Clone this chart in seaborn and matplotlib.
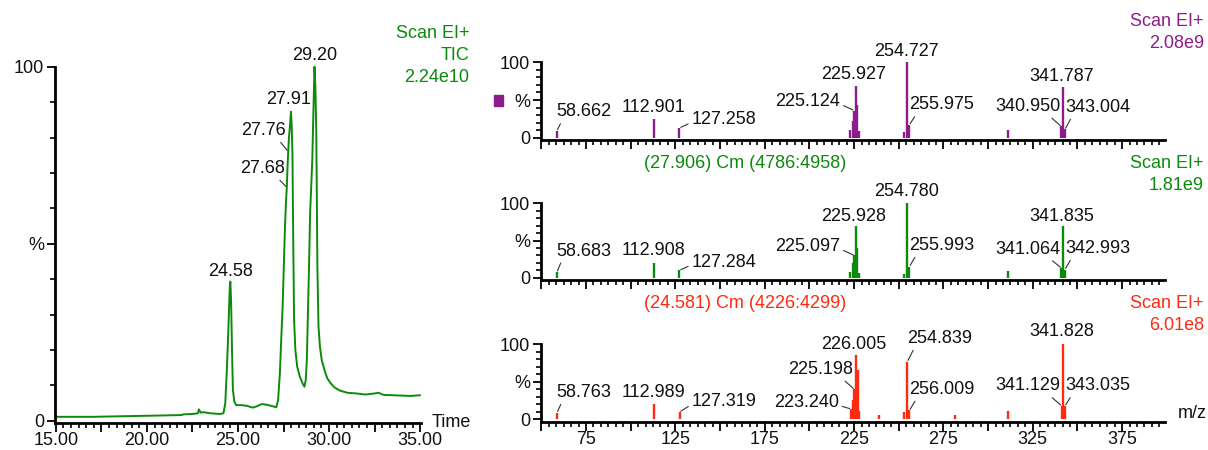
import seaborn as sns
import matplotlib.pyplot as plt
import pandas as pd
from matplotlib.ticker import MultipleLocator, FuncFormatter
from matplotlib.patches import Rectangle

# ---- chromatogram (TIC) ----
tic_time = [15.0, 16.0, 17.0, 18.0, 19.0, 20.0, 21.0, 21.9, 22.0, 22.5, 22.8, 22.85, 22.95,
            23.1, 23.5, 24.0, 24.2, 24.3, 24.38, 24.45, 24.5, 24.55, 24.58, 24.62, 24.66,
            24.72, 24.8, 24.9, 25.2, 25.5, 25.8, 26.0, 26.3, 26.6, 26.9, 27.1, 27.2, 27.3,
            27.38, 27.45, 27.52, 27.58, 27.64, 27.68, 27.72, 27.76, 27.8, 27.85, 27.91,
            27.95, 27.99, 28.03, 28.08, 28.15, 28.25, 28.4, 28.55, 28.65, 28.72, 28.78,
            28.84, 28.9, 28.96, 29.02, 29.08, 29.13, 29.2, 29.25, 29.3, 29.36, 29.42, 29.5,
            29.6, 29.75, 29.9, 30.1, 30.3, 30.6, 31.0, 31.5, 32.0, 32.5, 32.7, 33.0, 33.5,
            34.0, 34.5, 35.0]
tic_pct = [1.1, 1.1, 1.1, 1.2, 1.3, 1.4, 1.5, 1.6, 1.8, 1.9, 2.1, 3.2, 2.3,
           2.4, 2.1, 1.9, 2.1, 4.9, 13.4, 22.8, 30.3, 37.9, 39.3, 34.0, 22.8,
           8.7, 5.4, 4.4, 4.4, 4.2, 3.7, 4.0, 4.7, 4.5, 4.1, 3.8, 5.8, 13.4,
           23.7, 32.2, 44.4, 54.8, 62.3, 65.9, 71.8, 76.0, 80.2, 83.0, 87.3,
           83.0, 75.5, 52.9, 28.4, 20.0, 15.3, 12.4, 10.5, 9.6, 11.5, 17.1,
           30.3, 43.5, 58.6, 66.1, 73.6, 84.9, 100.0, 94.4, 81.2, 43.5, 26.6, 20.9,
           17.1, 14.3, 12.0, 10.5, 9.4, 8.5, 7.9, 7.7, 7.4, 7.7, 7.9, 7.3, 7.2,
           7.1, 7.0, 7.2]
tic_labels = ["24.58", "27.68", "27.76", "27.91", "29.20"]

# ---- mass spectra ----
top_mz = [58.662, 112.901, 127.258, 222.8, 224.3, 225.124, 225.927, 226.9, 228.0,
          253.0, 254.727, 255.975, 311.0, 340.950, 341.787, 343.004]
top_pct = [9, 25, 13, 10, 22, 36, 69, 43, 9, 7, 100, 17, 10, 15, 67, 11]
top_labels = ["58.662", "112.901", "127.258", "225.124", "225.927", "254.727",
              "255.975", "340.950", "341.787", "343.004"]

mid_mz = [58.683, 112.908, 127.284, 222.8, 224.3, 225.097, 225.928, 226.9, 228.0,
          253.0, 254.780, 255.993, 311.0, 341.064, 341.835, 342.993]
mid_pct = [7.5, 20, 10, 8, 20, 30, 69, 40, 7, 5, 100, 15, 9, 13, 69, 11]
mid_labels = ["58.683", "112.908", "127.284", "225.097", "225.928", "254.780",
              "255.993", "341.064", "341.835", "342.993"]

bot_mz = [58.763, 112.989, 127.319, 223.240, 224.3, 225.198, 226.005, 227.0, 228.0,
          239.2, 253.2, 254.839, 256.009, 281.5, 311.0, 341.129, 341.828, 343.035]
bot_pct = [9, 20, 10, 14, 26, 40, 86, 66, 11, 6, 10, 77, 12, 6, 11, 18, 100, 18]
bot_labels = ["58.763", "112.989", "127.319", "223.240", "225.198", "226.005",
              "254.839", "256.009", "341.129", "341.828", "343.035"]

# label placement: (kind, dx px, dy px)
tic_layout = [('up', 0, 10), ('l', -2, 19), ('l', -2, 21), ('up', -2, 12), ('up', 0, 11)]
top_layout = [('r', -1, 19), ('up', 0, 11), ('rs', 12, 8), ('ls', -14, 9), ('up', -2, 11),
              ('up', -1, 11), ('r', 0, 20), ('l', -1, 20), ('up', -1, 11), ('r', 0, 22)]
mid_layout = [('r', -1, 21), ('up', 0, 12), ('rs', 12, 8), ('ls', -14, 9), ('up', -2, 10),
              ('up', -1, 12), ('r', 0, 21), ('l', -1, 19), ('up', -1, 10), ('r', 0, 21)]
bot_layout = [('r', -1, 20), ('up', 0, 12), ('rs', 12, 10), ('ls', -12, 6), ('l', -1, 20),
              ('up', -2, 10), ('r', 0, 23), ('r', 0, 21), ('l', -1, 20), ('up', -1, 13),
              ('r', 0, 20)]

GREEN = '#0b8a0b'
PURPLE = '#8c1c8c'
RED = '#ff2a10'

sns.set_style('white')
plt.rcParams['font.family'] = ['Liberation Sans', 'DejaVu Sans']
plt.rcParams['font.size'] = 13

W, H = 1208, 450
fig = plt.figure(figsize=(W / 100, H / 100), dpi=100)

RELPOS = {'r': (0.12, 0.05), 'l': (0.8, 0.05), 'rs': (0.0, 0.35), 'ls': (1.0, 0.35)}


def style_axes(ax):
    sns.despine(ax=ax)
    for s in ('left', 'bottom'):
        ax.spines[s].set_linewidth(2)
        ax.spines[s].set_color('black')
    ax.tick_params(which='major', direction='out', length=6, width=1.3, pad=2,
                   color='black', labelcolor='#111', bottom=True, left=True)
    ax.tick_params(which='minor', direction='out', length=3.5, width=1.2, color='black',
                   bottom=True, left=True)
    ax.set_yticks([0, 50, 100])
    ax.set_yticklabels(['0', '%', '100'])
    ax.yaxis.set_minor_locator(MultipleLocator(10))
    ax.set_facecolor('white')
    ax.set_xlabel('')
    ax.set_ylabel('')


def put_labels(ax, xs, ys, labels, layout):
    for lab, (kind, dx, dy) in zip(labels, layout):
        v = float(lab)
        i = min(range(len(xs)), key=lambda k: abs(xs[k] - v))
        if kind == 'up':
            ax.annotate(lab, (xs[i], ys[i]), xytext=(dx, dy), textcoords='offset pixels',
                        ha='center', va='center', color='#111', annotation_clip=False)
        else:
            ha = 'left' if kind in ('r', 'rs') else 'right'
            ax.annotate(lab, (xs[i], ys[i]), xytext=(dx, dy), textcoords='offset pixels',
                        ha=ha, va='center', color='#111', annotation_clip=False,
                        arrowprops=dict(arrowstyle='-', lw=0.8, color='#333', shrinkA=0,
                                        shrinkB=1, relpos=RELPOS[kind]))


# chromatogram panel
ax = fig.add_axes([55 / W, 1 - 422.7 / H, 366 / W, 356 / H])
tic = pd.DataFrame({'time': tic_time, 'pct': tic_pct})
sns.lineplot(data=tic, x='time', y='pct', ax=ax, color=GREEN, lw=1.4, clip_on=False)
ax.set_xlim(14.95, 35.05)
ax.set_ylim(-0.56, 100)
style_axes(ax)
ax.xaxis.set_major_locator(MultipleLocator(2.5))
ax.xaxis.set_minor_locator(MultipleLocator(2.5 / 6))
ax.xaxis.set_major_formatter(FuncFormatter(lambda v, p: f'{v:.2f}' if abs(v % 5) < 1e-6 else ''))
ax.tick_params(axis='x', which='major', length=6.5, pad=0.5)
ax.text(1.03, 0.0, 'Time', transform=ax.transAxes, ha='left', va='center', color='#111')
put_labels(ax, tic_time, tic_pct, tic_labels, tic_layout)

fig.text(469 / W, 1 - 33 / H, 'Scan EI+', ha='right', va='center', color=GREEN)
fig.text(469 / W, 1 - 55 / H, 'TIC', ha='right', va='center', color=GREEN)
fig.text(469 / W, 1 - 77 / H, '2.24e10', ha='right', va='center', color=GREEN)


def spectrum(spine_y, top_y, mzs, pcts, labels, layout, color, show_x):
    ax = fig.add_axes([541 / W, 1 - spine_y / H, 624 / W, (spine_y - top_y) / H])
    ax.vlines(mzs, 0, pcts, colors=color, lw=1.7, clip_on=False)
    ax.set_xlim(49.8, 399.0)
    ax.set_ylim(-3, 100)
    style_axes(ax)
    ax.xaxis.set_major_locator(MultipleLocator(25))
    ax.xaxis.set_minor_locator(MultipleLocator(25 / 6))
    ax.xaxis.set_major_formatter(FuncFormatter(
        lambda v, p: f'{v:.0f}' if abs((v - 25) % 50) < 1e-6 and v > 60 else ''))
    ax.tick_params(axis='x', which='major', length=6.5, pad=0.5, labelbottom=show_x)
    put_labels(ax, mzs, pcts, labels, layout)
    return ax


spectrum(140, 62.3, top_mz, top_pct, top_labels, top_layout, PURPLE, False)
ax_mid = spectrum(280, 203.3, mid_mz, mid_pct, mid_labels, mid_layout, GREEN, False)
ax_bot = spectrum(421.7, 344.3, bot_mz, bot_pct, bot_labels, bot_layout, RED, True)
ax_bot.text(1.02, 0.1, 'm/z', transform=ax_bot.transAxes, ha='left', va='center', color='#111')

# headers of the spectra
fig.text(1204 / W, 1 - 22 / H, 'Scan EI+', ha='right', va='center', color=PURPLE)
fig.text(1204 / W, 1 - 43 / H, '2.08e9', ha='right', va='center', color=PURPLE)
fig.patches.append(Rectangle((494 / W, 1 - 106 / H), 9 / W, 11 / H, transform=fig.transFigure,
                             color=PURPLE, figure=fig))

fig.text(745 / W, 1 - 163 / H, '(27.906) Cm (4786:4958)', ha='center', va='center', color=GREEN)
fig.text(1204 / W, 1 - 163 / H, 'Scan EI+', ha='right', va='center', color=GREEN)
fig.text(1204 / W, 1 - 185 / H, '1.81e9', ha='right', va='center', color=GREEN)

fig.text(745 / W, 1 - 304 / H, '(24.581) Cm (4226:4299)', ha='center', va='center', color=RED)
fig.text(1204 / W, 1 - 304 / H, 'Scan EI+', ha='right', va='center', color=RED)
fig.text(1204 / W, 1 - 326 / H, '6.01e8', ha='right', va='center', color=RED)

fig.savefig('out.png', dpi=100, facecolor='white')
